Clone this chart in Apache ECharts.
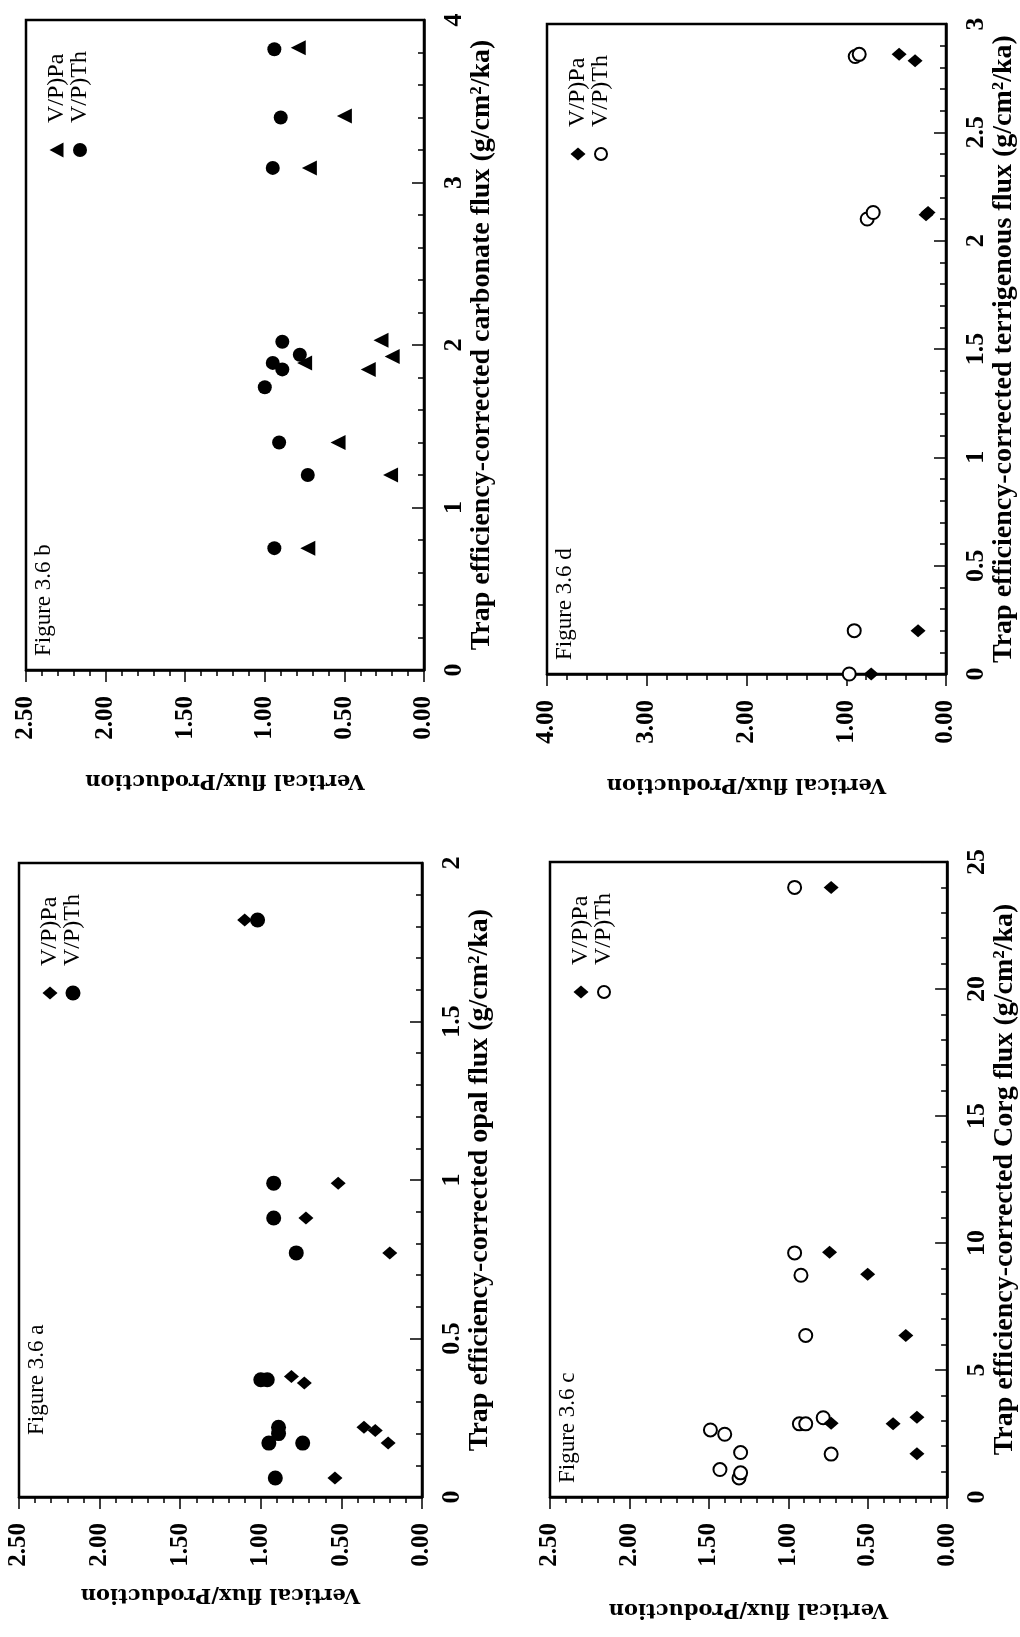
<!DOCTYPE html>
<html><head><meta charset="utf-8">
<script src="https://cdn.jsdelivr.net/npm/echarts@6/dist/echarts.min.js"></script>
<style>html,body{margin:0;padding:0;background:#fff}#c{width:1020px;height:1637px}</style>
</head><body><div id="c"></div>
<script>
// ---- Figure 3.6 a : opal flux ----
const opalFluxPa = [0.06, 0.17, 0.21, 0.22, 0.38, 0.36, 0.77, 0.88, 0.99, 1.82];
const opalPa     = [0.54, 0.21, 0.29, 0.36, 0.81, 0.73, 0.20, 0.72, 0.52, 1.10];
const opalFluxTh = [0.06, 0.17, 0.17, 0.22, 0.20, 0.37, 0.37, 0.77, 0.88, 0.99, 1.82];
const opalTh     = [0.91, 0.95, 0.74, 0.89, 0.89, 1.00, 0.96, 0.78, 0.92, 0.92, 1.02];
// ---- Figure 3.6 b : carbonate flux ----
const carbFluxPa = [0.75, 1.20, 1.40, 1.85, 1.89, 1.93, 2.03, 3.09, 3.41, 3.83];
const carbPa     = [0.73, 0.21, 0.54, 0.35, 0.75, 0.20, 0.27, 0.72, 0.50, 0.79];
const carbFluxTh = [0.75, 1.20, 1.40, 1.74, 1.85, 1.89, 1.94, 2.02, 3.09, 3.40, 3.82];
const carbTh     = [0.94, 0.73, 0.91, 1.00, 0.89, 0.95, 0.78, 0.89, 0.95, 0.90, 0.94];
// ---- Figure 3.6 c : Corg flux ----
const corgFluxPa = [1.7, 2.88, 2.9, 3.14, 6.36, 8.77, 9.64, 24.0];
const corgPa     = [0.19, 0.34, 0.73, 0.19, 0.26, 0.50, 0.74, 0.73];
const corgFluxTh = [0.75, 0.95, 1.08, 1.69, 1.75, 2.47, 2.64, 2.88, 2.88, 3.12, 6.36, 8.73, 9.61, 24.0];
const corgTh     = [1.31, 1.30, 1.43, 0.73, 1.30, 1.40, 1.49, 0.93, 0.89, 0.78, 0.89, 0.92, 0.96, 0.96];
// ---- Figure 3.6 d : terrigenous flux ----
const terFluxPa = [0.0, 0.20, 2.12, 2.13, 2.83, 2.86];
const terPa     = [0.75, 0.28, 0.20, 0.18, 0.31, 0.47];
const terFluxTh = [0.0, 0.20, 2.10, 2.13, 2.85, 2.86];
const terTh     = [0.97, 0.92, 0.79, 0.73, 0.91, 0.87];

const legendNames = ['V/P)Pa', 'V/P)Th'];
const yTitle = 'Vertical flux/Production';

const panels = [
  {label:'Figure 3.6 b', title:'Trap efficiency-corrected carbonate flux (g/cm\u00B2/ka)',
   box:{left:26, top:20, width:398, height:650}, vmax:2.5, vint:0.5, fmax:4, fint:1,
   pa:[carbFluxPa, carbPa], th:[carbFluxTh, carbTh], paSym:'triangle', thSym:'filled', thSize:14,
   labOff:14, vGap:100, fGap:43},
  {label:'Figure 3.6 d', title:'Trap efficiency-corrected terrigenous flux (g/cm\u00B2/ka)',
   box:{left:547, top:24, width:399, height:650}, vmax:4, vint:1, fmax:3, fint:0.5,
   pa:[terFluxPa, terPa], th:[terFluxTh, terTh], paSym:'diamond', thSym:'open', thSize:13,
   labOff:14, vGap:100, fGap:39},
  {label:'Figure 3.6 a', title:'Trap efficiency-corrected opal flux (g/cm\u00B2/ka)',
   box:{left:19, top:863, width:403, height:634}, vmax:2.5, vint:0.5, fmax:2, fint:0.5,
   pa:[opalFluxPa, opalPa], th:[opalFluxTh, opalTh], paSym:'diamond', thSym:'filled', thSize:15,
   labOff:62, vGap:87, fGap:43},
  {label:'Figure 3.6 c', title:'Trap efficiency-corrected Corg flux (g/cm\u00B2/ka)',
   box:{left:550, top:862, width:403, height:635}, vmax:2.5, vint:0.5, fmax:25, fint:5,
   pa:[corgFluxPa, corgPa], th:[corgFluxTh, corgTh], paSym:'diamond', thSym:'open', thSize:13,
   labOff:14, vGap:102, fGap:39}
];

const BLACK = '#000';
const grid = [], xAxis = [], yAxis = [], series = [], graphic = [];

function symStyle(kind){
  if (kind === 'triangle') return {symbol:'triangle', symbolSize:15, symbolRotate:90, itemStyle:{color:BLACK, opacity:1}};
  if (kind === 'diamond') return {symbol:'diamond', symbolSize:[15,13], itemStyle:{color:BLACK, opacity:1}};
  if (kind === 'open') return {symbol:'circle', symbolSize:13, itemStyle:{color:'#fff', borderColor:BLACK, borderWidth:2, opacity:1}};
  return {symbol:'circle', itemStyle:{color:BLACK, opacity:1}};
}

function legendShape(kind, x, y, size){
  if (kind === 'triangle') return {type:'polygon', shape:{points:[[x-7.5,y],[x+6.5,y-7.5],[x+6.5,y+7.5]]}, style:{fill:BLACK}};
  if (kind === 'diamond') return {type:'polygon', shape:{points:[[x-7.5,y],[x,y-6.5],[x+7.5,y],[x,y+6.5]]}, style:{fill:BLACK}};
  if (kind === 'open') return {type:'circle', shape:{cx:x, cy:y, r:6}, style:{fill:'#fff', stroke:BLACK, lineWidth:2}};
  return {type:'circle', shape:{cx:x, cy:y, r:size/2}, style:{fill:BLACK}};
}

panels.forEach((p, i) => {
  const b = p.box;
  grid.push({left:b.left, top:b.top, width:b.width, height:b.height, show:true,
             borderColor:BLACK, borderWidth:2.5, backgroundColor:'transparent'});
  xAxis.push({
    gridIndex:i, type:'value', inverse:true, min:0, max:p.vmax, interval:p.vint, position:'bottom',
    axisLine:{show:true, onZero:false, lineStyle:{color:BLACK, width:2.5}},
    axisTick:{show:true, inside:false, length:12, lineStyle:{color:BLACK, width:1.5}},
    minorTick:{show:true, splitNumber:5, length:6, lineStyle:{color:BLACK, width:1.5}},
    splitLine:{show:false}, minorSplitLine:{show:false},
    axisLabel:{rotate:90, margin:26, formatter:v => v.toFixed(2), color:BLACK,
               fontFamily:'Liberation Serif', fontWeight:'bold', fontSize:25},
    name:yTitle, nameLocation:'middle', nameRotate:180, nameGap:p.vGap,
    nameTextStyle:{fontFamily:'DejaVu Serif', fontWeight:'bold', fontSize:21, color:BLACK}
  });
  yAxis.push({
    gridIndex:i, type:'value', min:0, max:p.fmax, interval:p.fint, position:'right',
    axisLine:{show:true, onZero:false, lineStyle:{color:BLACK, width:2.5}},
    axisTick:{show:true, inside:true, length:12, lineStyle:{color:BLACK, width:1.5}},
    minorTick:{show:true, splitNumber:5, length:6, lineStyle:{color:BLACK, width:1.5}},
    splitLine:{show:false}, minorSplitLine:{show:false},
    axisLabel:{rotate:90, margin:17, formatter:v => String(v), color:BLACK,
               fontFamily:'Liberation Serif', fontWeight:'bold', fontSize:26},
    name:p.title, nameLocation:'middle', nameRotate:90, nameGap:p.fGap,
    nameTextStyle:{fontFamily:'Liberation Serif', fontWeight:'bold', fontSize:28, color:BLACK}
  });
  const pa = symStyle(p.paSym), th = symStyle(p.thSym);
  if (p.thSym === 'filled') th.symbolSize = p.thSize;
  series.push(Object.assign({type:'scatter', name:legendNames[0], xAxisIndex:i, yAxisIndex:i,
    data:p.pa[0].map((f,k) => [p.pa[1][k], f]), z:3}, pa));
  series.push(Object.assign({type:'scatter', name:legendNames[1], xAxisIndex:i, yAxisIndex:i,
    data:p.th[0].map((f,k) => [p.th[1][k], f]), z:2}, th));

  // legend (rotated like the page)
  const lx1 = b.left + 31, lx2 = b.left + 54, ly = b.top + 103;
  graphic.push({type:'text', x:lx1, y:ly, rotation:Math.PI/2,
    style:{text:legendNames[0], font:'24px "Liberation Serif"', fill:BLACK, textAlign:'left', textVerticalAlign:'middle'}});
  graphic.push({type:'text', x:lx2, y:ly, rotation:Math.PI/2,
    style:{text:legendNames[1], font:'24px "Liberation Serif"', fill:BLACK, textAlign:'left', textVerticalAlign:'middle'}});
  graphic.push(legendShape(p.paSym, lx1, b.top + 130, 14));
  graphic.push(legendShape(p.thSym, lx2, b.top + 130, p.thSize));
  // panel label
  graphic.push({type:'text', x:b.left + 18, y:b.top + b.height - p.labOff, rotation:Math.PI/2,
    style:{text:p.label, font:'23px "Liberation Serif"', fill:BLACK, textAlign:'left', textVerticalAlign:'middle'}});
});

const chart = echarts.init(document.getElementById('c'), null, {renderer:'canvas', width:1020, height:1637});
chart.setOption({
  backgroundColor:'#fff', animation:false,
  grid, xAxis, yAxis, series, graphic
});
</script>
</body></html>
